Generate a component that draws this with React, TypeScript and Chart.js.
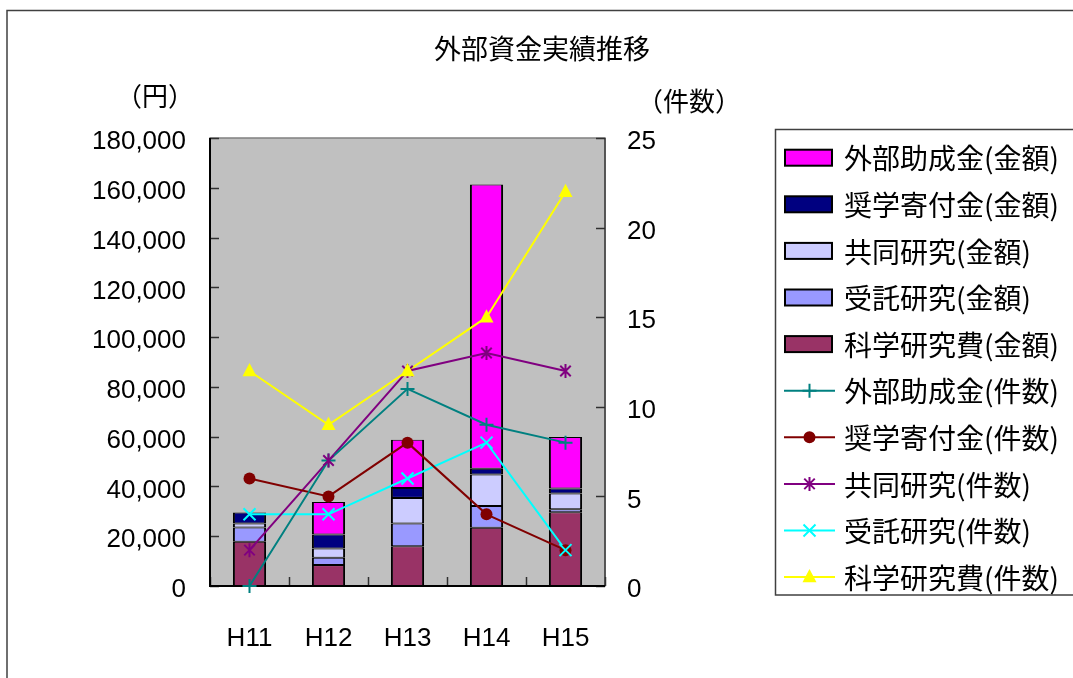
import React, { useEffect, useRef } from 'react';
import { Chart, registerables } from 'chart.js';

Chart.register(...registerables);

// Fiscal years (Heisei)
const years = ['H11', 'H12', 'H13', 'H14', 'H15'];

// Amounts (円), stacked bottom → top
const kakenAmount = [17800, 8400, 16000, 23400, 29600];
const jutakuAmount = [5700, 3000, 9100, 8700, 1200];
const kyodoAmount = [1600, 3700, 10300, 12700, 6400];
const shogakuAmount = [4400, 5600, 4000, 2300, 2000];
const gaibuAmount = [0, 13100, 19400, 114200, 20700];

// Counts (件数)
const gaibuCount = [0, 7, 11, 9, 8];
const shogakuCount = [6, 5, 8, 4, 2];
const kyodoCount = [2, 7, 12, 13, 12];
const jutakuCount = [4, 4, 6, 8, 2];
const kakenCount = [12, 9, 12, 15, 22];

// Axis ranges
const yenMax = 180000;
const yenStep = 20000;
const countMax = 25;
const countStep = 5;

const titleText = '外部資金実績推移';
const yenUnit = '（円）';
const countUnit = '（件数）';

// Legend lists the top bar segment first, then the lines
const legendOrder = [4, 3, 2, 1, 0, 5, 6, 7, 8, 9];

const NUM_FONT = '"Liberation Sans", Arial, "Noto Sans CJK JP", sans-serif';
const JP_FONT = '"Noto Sans CJK JP", sans-serif';

const W = 1073;
const H = 678;

function drawMarker(ctx: CanvasRenderingContext2D, style: string, x: number, y: number, r: number, color: string) {
  ctx.save();
  ctx.strokeStyle = color;
  ctx.fillStyle = color;
  ctx.lineWidth = 2;
  ctx.beginPath();
  if (style === 'circle') {
    ctx.arc(x, y, r, 0, Math.PI * 2);
    ctx.fill();
  } else if (style === 'triangle') {
    ctx.moveTo(x, y - r * 1.15);
    ctx.lineTo(x + r, y + r * 0.75);
    ctx.lineTo(x - r, y + r * 0.75);
    ctx.closePath();
    ctx.fill();
  } else if (style === 'cross') {
    ctx.moveTo(x - r, y); ctx.lineTo(x + r, y);
    ctx.moveTo(x, y - r); ctx.lineTo(x, y + r);
    ctx.stroke();
  } else if (style === 'crossRot') {
    const d = r * 0.75;
    ctx.moveTo(x - d, y - d); ctx.lineTo(x + d, y + d);
    ctx.moveTo(x - d, y + d); ctx.lineTo(x + d, y - d);
    ctx.stroke();
  } else if (style === 'star') {
    const d = r * 0.75;
    ctx.moveTo(x - d, y - d); ctx.lineTo(x + d, y + d);
    ctx.moveTo(x - d, y + d); ctx.lineTo(x + d, y - d);
    ctx.moveTo(x, y - r); ctx.lineTo(x, y + r);
    ctx.stroke();
  }
  ctx.restore();
}

const decorPlugin = {
  id: 'decor',
  beforeDatasetsDraw(chart: any) {
    const { ctx, chartArea: a, scales } = chart;
    ctx.save();
    // plot background
    ctx.fillStyle = '#c0c0c0';
    ctx.fillRect(a.left, a.top, a.right - a.left, a.bottom - a.top);
    // plot frame
    ctx.strokeStyle = '#808080';
    ctx.lineWidth = 1.5;
    ctx.strokeRect(a.left, a.top, a.right - a.left, a.bottom - a.top);
    ctx.strokeStyle = '#404040';
    ctx.beginPath();
    ctx.moveTo(a.right, a.top); ctx.lineTo(a.right, a.bottom);
    ctx.stroke();

    // inward tick marks
    ctx.strokeStyle = '#303030';
    ctx.lineWidth = 1.5;
    ctx.beginPath();
    scales.y.ticks.forEach((t: any) => {
      const py = Math.round(scales.y.getPixelForValue(t.value)) + 0.5;
      ctx.moveTo(a.left, py); ctx.lineTo(a.left + 9, py);
    });
    scales.y1.ticks.forEach((t: any) => {
      const py = Math.round(scales.y1.getPixelForValue(t.value)) + 0.5;
      ctx.moveTo(a.right - 9, py); ctx.lineTo(a.right, py);
    });
    const half = (scales.x.getPixelForValue(1) - scales.x.getPixelForValue(0)) / 2;
    for (let i = 0; i <= years.length; i++) {
      const px = Math.round(scales.x.getPixelForValue(i) - half) + 0.5;
      ctx.moveTo(px, a.bottom); ctx.lineTo(px, a.bottom - 9);
    }
    ctx.stroke();

    // axis lines
    ctx.strokeStyle = '#000';
    ctx.lineWidth = 2;
    ctx.beginPath();
    ctx.moveTo(a.left, a.top); ctx.lineTo(a.left, a.bottom); ctx.lineTo(a.right, a.bottom);
    ctx.stroke();
    ctx.restore();
  },
  afterDraw(chart: any) {
    const { ctx } = chart;
    ctx.save();
    // outer frame
    ctx.strokeStyle = '#404040';
    ctx.lineWidth = 1.5;
    ctx.beginPath();
    ctx.moveTo(7, H); ctx.lineTo(7, 10.5); ctx.lineTo(W, 10.5);
    ctx.stroke();

    // title and axis units
    ctx.fillStyle = '#000';
    ctx.textAlign = 'center';
    ctx.textBaseline = 'middle';
    ctx.font = `27px ${JP_FONT}`;
    ctx.fillText(titleText, 542, 49);
    ctx.font = `26px ${JP_FONT}`;
    ctx.fillText(yenUnit, 155, 96);
    ctx.fillText(countUnit, 689, 101);

    // legend
    const lx = 775.5;
    const ly = 129.5;
    ctx.strokeStyle = '#404040';
    ctx.lineWidth = 1.5;
    ctx.strokeRect(lx, ly, W + 10 - lx, 595 - ly);
    ctx.font = `28px ${JP_FONT}`;
    ctx.textAlign = 'left';
    legendOrder.forEach((di, i) => {
      const ds = chart.data.datasets[di];
      const cy = 157.7 + i * 46.6;
      if (ds.type === 'bar') {
        ctx.fillStyle = ds.backgroundColor;
        ctx.fillRect(785, cy - 8, 47, 16);
        ctx.strokeStyle = '#000';
        ctx.lineWidth = 2;
        ctx.strokeRect(785, cy - 8, 47, 16);
      } else {
        ctx.strokeStyle = ds.borderColor;
        ctx.lineWidth = 2;
        ctx.beginPath();
        ctx.moveTo(784, cy); ctx.lineTo(835, cy);
        ctx.stroke();
        drawMarker(ctx, ds.pointStyle, 809.5, cy, ds.pointRadius, ds.borderColor);
      }
      ctx.fillStyle = '#000';
      ctx.fillText(ds.label, 844, cy + 1);
    });
    ctx.restore();
  },
};

// Line datasets draw their own markers via the same shapes used in the legend
const markerPlugin = {
  id: 'markers',
  afterDatasetsDraw(chart: any) {
    const { ctx } = chart;
    chart.data.datasets.forEach((ds: any, di: number) => {
      if (ds.type !== 'line') return;
      const meta = chart.getDatasetMeta(di);
      meta.data.forEach((pt: any) => {
        drawMarker(ctx, ds.pointStyle, pt.x, pt.y, ds.pointRadius, ds.borderColor);
      });
    });
  },
};

function barSet(label: string, data: number[], color: string) {
  return {
    type: 'bar' as const,
    label,
    data,
    backgroundColor: color,
    borderColor: '#000',
    borderWidth: { left: 2, right: 2, top: 1, bottom: 1 },
    borderSkipped: false,
    yAxisID: 'y',
    stack: 'amount',
    order: 1,
    categoryPercentage: 1,
    barPercentage: 0.42,
  };
}

function lineSet(label: string, data: number[], color: string, pointStyle: string, radius: number) {
  return {
    type: 'line' as const,
    label,
    data,
    borderColor: color,
    backgroundColor: color,
    borderWidth: 2,
    pointStyle,
    pointRadius: radius,
    pointHoverRadius: radius,
    pointBorderWidth: 0,
    pointBackgroundColor: 'rgba(0,0,0,0)',
    pointBorderColor: 'rgba(0,0,0,0)',
    yAxisID: 'y1',
    order: 0,
    tension: 0,
    clip: false as const,
  };
}

export default function App() {
  const canvasRef = useRef<HTMLCanvasElement | null>(null);

  useEffect(() => {
    const canvas = canvasRef.current;
    if (!canvas) return;
    const chart = new Chart(canvas, {
      data: {
        labels: years,
        datasets: [
          barSet('科学研究費(金額)', kakenAmount, '#993366'),
          barSet('受託研究(金額)', jutakuAmount, '#9999ff'),
          barSet('共同研究(金額)', kyodoAmount, '#ccccff'),
          barSet('奨学寄付金(金額)', shogakuAmount, '#000080'),
          barSet('外部助成金(金額)', gaibuAmount, '#ff00ff'),
          lineSet('外部助成金(件数)', gaibuCount, '#008080', 'cross', 7),
          lineSet('奨学寄付金(件数)', shogakuCount, '#800000', 'circle', 6),
          lineSet('共同研究(件数)', kyodoCount, '#800080', 'star', 7),
          lineSet('受託研究(件数)', jutakuCount, '#00ffff', 'crossRot', 8),
          lineSet('科学研究費(件数)', kakenCount, '#ffff00', 'triangle', 7),
        ] as any,
      },
      options: {
        responsive: false,
        animation: false,
        events: [],
        layout: { padding: { top: 138, left: 0, right: 0, bottom: 0 } },
        plugins: {
          legend: { display: false },
          title: { display: false },
          tooltip: { enabled: false },
        },
        scales: {
          x: {
            type: 'category',
            offset: true,
            stacked: true,
            grid: { display: false, drawTicks: false },
            border: { display: false },
            ticks: {
              color: '#000',
              font: { family: NUM_FONT, size: 26 },
              padding: 37,
              maxRotation: 0,
            },
            afterFit(scale: any) { scale.height = 92; },
          },
          y: {
            type: 'linear',
            position: 'left',
            stacked: true,
            min: 0,
            max: yenMax,
            grid: { display: false, drawTicks: false },
            border: { display: false },
            ticks: {
              stepSize: yenStep,
              color: '#000',
              font: { family: NUM_FONT, size: 26 },
              padding: 24,
              labelOffset: 4,
              callback: (v: any) => Number(v).toLocaleString('en-US'),
            },
            afterFit(scale: any) { scale.width = 210; },
          },
          y1: {
            type: 'linear',
            position: 'right',
            min: 0,
            max: countMax,
            grid: { display: false, drawTicks: false },
            border: { display: false },
            ticks: {
              stepSize: countStep,
              color: '#000',
              font: { family: NUM_FONT, size: 26 },
              padding: 22,
              labelOffset: 4,
            },
            afterFit(scale: any) { scale.width = W - 605; },
          },
        },
      } as any,
      plugins: [decorPlugin, markerPlugin],
    });
    return () => chart.destroy();
  }, []);

  return (
    <div style={{ position: 'absolute', left: 0, top: 0, width: W, height: H, background: '#fff' }}>
      <canvas ref={canvasRef} width={W} height={H} />
    </div>
  );
}
